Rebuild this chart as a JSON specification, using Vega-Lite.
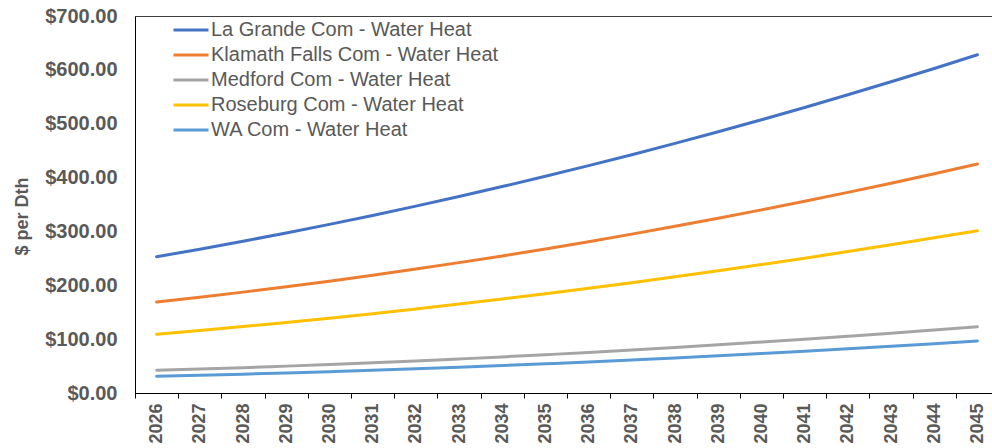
{
  "$schema": "https://vega.github.io/schema/vega-lite/v6.json",
  "width": 858,
  "height": 377,
  "autosize": {"type": "none"},
  "padding": {"left": 135, "top": 16, "right": 0, "bottom": 55},
  "background": "white",
  "config": {
    "view": {"stroke": "#404040", "strokeWidth": 1},
    "font": "Liberation Sans"
  },
  "data": {
    "values": [
      {"year": 2026, "series": "La Grande Com - Water Heat", "value": 253.0},
      {"year": 2027, "series": "La Grande Com - Water Heat", "value": 267.1},
      {"year": 2028, "series": "La Grande Com - Water Heat", "value": 281.8},
      {"year": 2029, "series": "La Grande Com - Water Heat", "value": 297.2},
      {"year": 2030, "series": "La Grande Com - Water Heat", "value": 313.1},
      {"year": 2031, "series": "La Grande Com - Water Heat", "value": 329.7},
      {"year": 2032, "series": "La Grande Com - Water Heat", "value": 347.0},
      {"year": 2033, "series": "La Grande Com - Water Heat", "value": 364.8},
      {"year": 2034, "series": "La Grande Com - Water Heat", "value": 383.3},
      {"year": 2035, "series": "La Grande Com - Water Heat", "value": 402.4},
      {"year": 2036, "series": "La Grande Com - Water Heat", "value": 422.2},
      {"year": 2037, "series": "La Grande Com - Water Heat", "value": 442.5},
      {"year": 2038, "series": "La Grande Com - Water Heat", "value": 463.5},
      {"year": 2039, "series": "La Grande Com - Water Heat", "value": 485.1},
      {"year": 2040, "series": "La Grande Com - Water Heat", "value": 507.4},
      {"year": 2041, "series": "La Grande Com - Water Heat", "value": 530.2},
      {"year": 2042, "series": "La Grande Com - Water Heat", "value": 553.7},
      {"year": 2043, "series": "La Grande Com - Water Heat", "value": 577.9},
      {"year": 2044, "series": "La Grande Com - Water Heat", "value": 602.6},
      {"year": 2045, "series": "La Grande Com - Water Heat", "value": 628.0},
      {"year": 2026, "series": "Klamath Falls Com - Water Heat", "value": 169.0},
      {"year": 2027, "series": "Klamath Falls Com - Water Heat", "value": 177.9},
      {"year": 2028, "series": "Klamath Falls Com - Water Heat", "value": 187.3},
      {"year": 2029, "series": "Klamath Falls Com - Water Heat", "value": 197.3},
      {"year": 2030, "series": "Klamath Falls Com - Water Heat", "value": 207.7},
      {"year": 2031, "series": "Klamath Falls Com - Water Heat", "value": 218.6},
      {"year": 2032, "series": "Klamath Falls Com - Water Heat", "value": 230.1},
      {"year": 2033, "series": "Klamath Falls Com - Water Heat", "value": 242.1},
      {"year": 2034, "series": "Klamath Falls Com - Water Heat", "value": 254.5},
      {"year": 2035, "series": "Klamath Falls Com - Water Heat", "value": 267.5},
      {"year": 2036, "series": "Klamath Falls Com - Water Heat", "value": 281.0},
      {"year": 2037, "series": "Klamath Falls Com - Water Heat", "value": 295.0},
      {"year": 2038, "series": "Klamath Falls Com - Water Heat", "value": 309.5},
      {"year": 2039, "series": "Klamath Falls Com - Water Heat", "value": 324.5},
      {"year": 2040, "series": "Klamath Falls Com - Water Heat", "value": 340.0},
      {"year": 2041, "series": "Klamath Falls Com - Water Heat", "value": 356.0},
      {"year": 2042, "series": "Klamath Falls Com - Water Heat", "value": 372.5},
      {"year": 2043, "series": "Klamath Falls Com - Water Heat", "value": 389.6},
      {"year": 2044, "series": "Klamath Falls Com - Water Heat", "value": 407.1},
      {"year": 2045, "series": "Klamath Falls Com - Water Heat", "value": 425.2},
      {"year": 2026, "series": "Medford Com - Water Heat", "value": 42.1},
      {"year": 2027, "series": "Medford Com - Water Heat", "value": 44.5},
      {"year": 2028, "series": "Medford Com - Water Heat", "value": 47.1},
      {"year": 2029, "series": "Medford Com - Water Heat", "value": 49.9},
      {"year": 2030, "series": "Medford Com - Water Heat", "value": 52.9},
      {"year": 2031, "series": "Medford Com - Water Heat", "value": 56.1},
      {"year": 2032, "series": "Medford Com - Water Heat", "value": 59.5},
      {"year": 2033, "series": "Medford Com - Water Heat", "value": 63.2},
      {"year": 2034, "series": "Medford Com - Water Heat", "value": 67.0},
      {"year": 2035, "series": "Medford Com - Water Heat", "value": 71.1},
      {"year": 2036, "series": "Medford Com - Water Heat", "value": 75.3},
      {"year": 2037, "series": "Medford Com - Water Heat", "value": 79.8},
      {"year": 2038, "series": "Medford Com - Water Heat", "value": 84.5},
      {"year": 2039, "series": "Medford Com - Water Heat", "value": 89.4},
      {"year": 2040, "series": "Medford Com - Water Heat", "value": 94.5},
      {"year": 2041, "series": "Medford Com - Water Heat", "value": 99.8},
      {"year": 2042, "series": "Medford Com - Water Heat", "value": 105.3},
      {"year": 2043, "series": "Medford Com - Water Heat", "value": 111.0},
      {"year": 2044, "series": "Medford Com - Water Heat", "value": 117.0},
      {"year": 2045, "series": "Medford Com - Water Heat", "value": 123.1},
      {"year": 2026, "series": "Roseburg Com - Water Heat", "value": 109.0},
      {"year": 2027, "series": "Roseburg Com - Water Heat", "value": 116.0},
      {"year": 2028, "series": "Roseburg Com - Water Heat", "value": 123.3},
      {"year": 2029, "series": "Roseburg Com - Water Heat", "value": 131.0},
      {"year": 2030, "series": "Roseburg Com - Water Heat", "value": 138.9},
      {"year": 2031, "series": "Roseburg Com - Water Heat", "value": 147.3},
      {"year": 2032, "series": "Roseburg Com - Water Heat", "value": 156.0},
      {"year": 2033, "series": "Roseburg Com - Water Heat", "value": 165.1},
      {"year": 2034, "series": "Roseburg Com - Water Heat", "value": 174.5},
      {"year": 2035, "series": "Roseburg Com - Water Heat", "value": 184.3},
      {"year": 2036, "series": "Roseburg Com - Water Heat", "value": 194.4},
      {"year": 2037, "series": "Roseburg Com - Water Heat", "value": 204.9},
      {"year": 2038, "series": "Roseburg Com - Water Heat", "value": 215.7},
      {"year": 2039, "series": "Roseburg Com - Water Heat", "value": 226.9},
      {"year": 2040, "series": "Roseburg Com - Water Heat", "value": 238.4},
      {"year": 2041, "series": "Roseburg Com - Water Heat", "value": 250.3},
      {"year": 2042, "series": "Roseburg Com - Water Heat", "value": 262.6},
      {"year": 2043, "series": "Roseburg Com - Water Heat", "value": 275.2},
      {"year": 2044, "series": "Roseburg Com - Water Heat", "value": 288.1},
      {"year": 2045, "series": "Roseburg Com - Water Heat", "value": 301.4},
      {"year": 2026, "series": "WA Com - Water Heat", "value": 31.0},
      {"year": 2027, "series": "WA Com - Water Heat", "value": 32.9},
      {"year": 2028, "series": "WA Com - Water Heat", "value": 35.0},
      {"year": 2029, "series": "WA Com - Water Heat", "value": 37.2},
      {"year": 2030, "series": "WA Com - Water Heat", "value": 39.6},
      {"year": 2031, "series": "WA Com - Water Heat", "value": 42.2},
      {"year": 2032, "series": "WA Com - Water Heat", "value": 44.9},
      {"year": 2033, "series": "WA Com - Water Heat", "value": 47.9},
      {"year": 2034, "series": "WA Com - Water Heat", "value": 51.0},
      {"year": 2035, "series": "WA Com - Water Heat", "value": 54.3},
      {"year": 2036, "series": "WA Com - Water Heat", "value": 57.7},
      {"year": 2037, "series": "WA Com - Water Heat", "value": 61.3},
      {"year": 2038, "series": "WA Com - Water Heat", "value": 65.1},
      {"year": 2039, "series": "WA Com - Water Heat", "value": 69.1},
      {"year": 2040, "series": "WA Com - Water Heat", "value": 73.2},
      {"year": 2041, "series": "WA Com - Water Heat", "value": 77.5},
      {"year": 2042, "series": "WA Com - Water Heat", "value": 82.0},
      {"year": 2043, "series": "WA Com - Water Heat", "value": 86.7},
      {"year": 2044, "series": "WA Com - Water Heat", "value": 91.5},
      {"year": 2045, "series": "WA Com - Water Heat", "value": 96.5}
    ]
  },
  "mark": {"type": "line", "strokeWidth": 3, "interpolate": "monotone", "strokeCap": "round"},
  "encoding": {
    "x": {
      "field": "year",
      "type": "quantitative",
      "scale": {"domain": [2025.5, 2045.36], "nice": false, "zero": false},
      "axis": {
        "title": null,
        "values": [2025.5, 2026.5, 2027.5, 2028.5, 2029.5, 2030.5, 2031.5, 2032.5, 2033.5, 2034.5, 2035.5, 2036.5, 2037.5, 2038.5, 2039.5, 2040.5, 2041.5, 2042.5, 2043.5, 2044.5],
        "labelExpr": "format(datum.value + 0.5, 'd')",
        "labelOffset": 21.6,
        "labelAngle": -90,
        "labelAlign": "right",
        "labelBaseline": "middle",
        "labelFont": "Liberation Sans",
        "labelFontWeight": "bold",
        "labelFontSize": 18,
        "labelColor": "#595959",
        "labelPadding": 5,
        "labelOverlap": false,
        "labelBound": false,
        "labelFlush": false,
        "tickSize": 5,
        "tickColor": "#000000",
        "domainColor": "#000000",
        "domainWidth": 1,
        "grid": false
      }
    },
    "y": {
      "field": "value",
      "type": "quantitative",
      "scale": {"domain": [0, 700], "nice": false},
      "axis": {
        "title": "$ per Dth",
        "titleFont": "Liberation Sans",
        "titleFontSize": 18,
        "titleFontWeight": "bold",
        "titleColor": "#595959",
        "titleAngle": -90,
        "titleAlign": "center",
        "titleBaseline": "middle",
        "titleX": -113,
        "titleY": 200,
        "values": [0, 100, 200, 300, 400, 500, 600, 700],
        "format": "$.2f",
        "labelFont": "Liberation Sans",
        "labelFontWeight": "bold",
        "labelFontSize": 20,
        "labelColor": "#595959",
        "labelPadding": 18,
        "ticks": false,
        "domainColor": "#000000",
        "grid": false
      }
    },
    "color": {
      "field": "series",
      "type": "nominal",
      "scale": {
        "domain": ["La Grande Com - Water Heat", "Klamath Falls Com - Water Heat", "Medford Com - Water Heat", "Roseburg Com - Water Heat", "WA Com - Water Heat"],
        "range": ["#4472C4", "#ED7D31", "#A5A5A5", "#FFC000", "#5B9BD5"]
      },
      "legend": {
        "title": null,
        "orient": "none",
        "legendX": 37,
        "legendY": 1.5,
        "symbolType": "stroke",
        "symbolSize": 1225,
        "symbolStrokeWidth": 3,
        "clipHeight": 25,
        "labelFont": "Liberation Sans",
        "labelFontSize": 20,
        "labelColor": "#595959",
        "labelOffset": 1,
        "rowPadding": 0,
        "labelLimit": 400
      }
    }
  }
}
